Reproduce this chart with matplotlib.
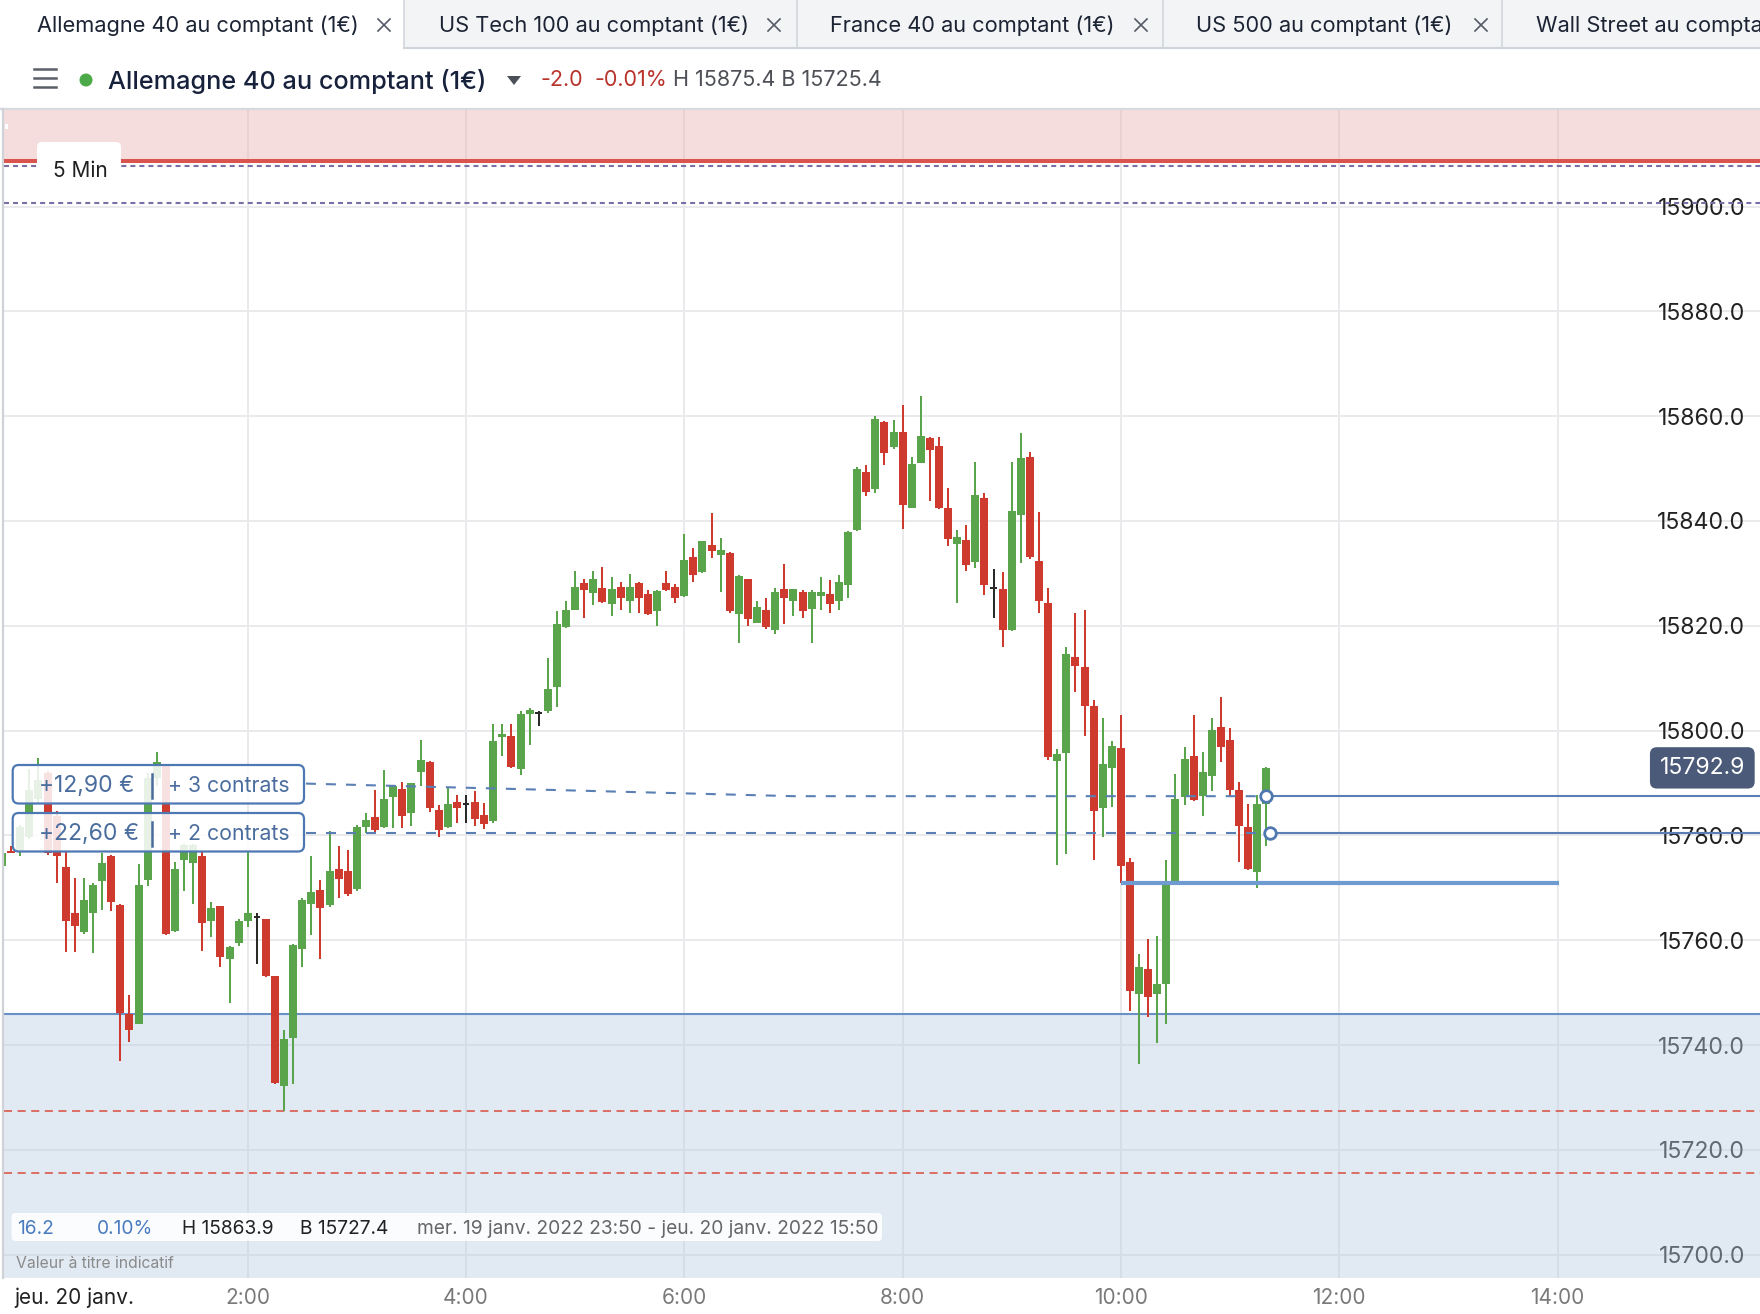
import numpy as np
import matplotlib
matplotlib.use("Agg")
import matplotlib.pyplot as plt
from matplotlib.patches import FancyBboxPatch, Rectangle, Polygon, Circle
from matplotlib.transforms import blended_transform_factory

plt.rcParams['font.family'] = ['Inter', 'DejaVu Sans']
plt.rcParams['lines.scale_dashes'] = False

# ---------------- data (5-min candles, DAX / Allemagne 40) ----------------
bar_times = [
    "23:45", "23:50", "23:55",
    "00:00", "00:05", "00:10", "00:15", "00:20", "00:25", "00:30", "00:35", "00:40", "00:45", "00:50", "00:55",
    "01:00", "01:05", "01:10", "01:15", "01:20", "01:25", "01:30", "01:35", "01:40", "01:45", "01:50", "01:55",
    "02:00", "02:05", "02:10", "02:15", "02:20", "02:25", "02:30", "02:35", "02:40", "02:45", "02:50", "02:55",
    "03:00", "03:05", "03:10", "03:15", "03:20", "03:25", "03:30", "03:35", "03:40", "03:45", "03:50", "03:55",
    "04:00", "04:05", "04:10", "04:15", "04:20", "04:25", "04:30", "04:35", "04:40", "04:45", "04:50", "04:55",
    "05:00", "05:05", "05:10", "05:15", "05:20", "05:25", "05:30", "05:35", "05:40", "05:45", "05:50", "05:55",
    "06:00", "06:05", "06:10", "06:15", "06:20", "06:25", "06:30", "06:35", "06:40", "06:45", "06:50", "06:55",
    "07:00", "07:05", "07:10", "07:15", "07:20", "07:25", "07:30", "07:35", "07:40", "07:45", "07:50", "07:55",
    "08:00", "08:05", "08:10", "08:15", "08:20", "08:25", "08:30", "08:35", "08:40", "08:45", "08:50", "08:55",
    "09:00", "09:05", "09:10", "09:15", "09:20", "09:25", "09:30", "09:35", "09:40", "09:45", "09:50", "09:55",
    "10:00", "10:05", "10:10", "10:15", "10:20", "10:25", "10:30", "10:35", "10:40", "10:45", "10:50", "10:55",
    "11:00", "11:05", "11:10", "11:15", "11:20",
]
opens = [
    15774.2, 15777.0, 15776.9,
    15779.8, 15787.0, 15791.9, 15783.7, 15774.0, 15765.3, 15761.6, 15765.3, 15771.3, 15776.0, 15766.7, 15745.9,
    15744.1, 15771.5, 15790.9, 15793.4, 15761.8, 15775.3, 15774.8, 15776.1, 15763.7, 15766.5, 15756.4, 15759.4,
    15763.7, 15764.5, 15764.1, 15753.2, 15732.3, 15741.3, 15758.4, 15766.9, 15769.6, 15766.7, 15773.6, 15773.2,
    15769.8, 15781.7, 15783.6, 15781.7, 15787.3, 15788.9, 15784.2, 15792.2, 15794.1, 15784.8, 15781.7, 15786.4,
    15786.0, 15786.4, 15784.0, 15782.7, 15798.7, 15799.0, 15792.6, 15803.1, 15803.3, 15803.7, 15808.3, 15819.7,
    15823.1, 15828.1, 15826.2, 15827.2, 15824.1, 15827.5, 15824.7, 15828.1, 15826.0, 15822.8, 15828.1, 15827.5,
    15825.6, 15833.1, 15830.3, 15835.5, 15833.6, 15833.9, 15822.2, 15829.0, 15820.6, 15823.1, 15819.2, 15827.1,
    15824.7, 15826.5, 15823.2, 15825.6, 15826.0, 15824.7, 15827.7, 15838.2, 15849.3, 15846.1, 15858.8, 15854.1,
    15856.9, 15842.5, 15851.1, 15855.9, 15854.4, 15842.5, 15835.7, 15836.4, 15832.1, 15844.4, 15827.3, 15827.1,
    15819.2, 15841.2, 15852.3, 15832.4, 15824.4, 15794.3, 15795.8, 15814.0, 15812.1, 15804.7, 15785.3, 15792.8,
    15796.7, 15775.0, 15749.7, 15754.6, 15749.7, 15751.6, 15771.2, 15787.4, 15795.2, 15787.6, 15791.4, 15800.7,
    15798.2, 15788.6, 15781.6, 15773.1, 15786.1,
]
highs = [
    15777.0, 15778.0, 15782.0,
    15792.6, 15794.7, 15792.3, 15784.7, 15776.9, 15771.9, 15771.9, 15771.0, 15776.6, 15776.3, 15767.0, 15749.6,
    15774.6, 15792.0, 15795.9, 15793.7, 15774.9, 15778.3, 15778.3, 15776.9, 15767.4, 15766.6, 15759.0, 15764.0,
    15776.9, 15765.3, 15764.1, 15753.2, 15742.9, 15759.3, 15768.0, 15776.0, 15771.5, 15780.9, 15778.0, 15777.2,
    15782.0, 15784.3, 15788.7, 15792.4, 15789.5, 15790.2, 15790.0, 15798.2, 15794.3, 15785.8, 15789.3, 15787.8,
    15787.8, 15788.4, 15786.2, 15801.3, 15801.3, 15801.3, 15803.8, 15804.4, 15803.8, 15813.8, 15822.9, 15824.8,
    15830.4, 15828.9, 15830.4, 15831.3, 15829.4, 15828.3, 15829.8, 15828.3, 15826.9, 15826.9, 15830.4, 15827.9,
    15837.5, 15834.8, 15836.1, 15841.5, 15836.8, 15834.0, 15829.7, 15829.0, 15824.8, 15825.4, 15827.3, 15831.8,
    15827.1, 15826.9, 15826.9, 15829.4, 15828.8, 15829.7, 15838.0, 15850.3, 15850.6, 15860.1, 15859.0, 15859.2,
    15862.2, 15852.2, 15863.9, 15856.0, 15856.1, 15846.3, 15838.3, 15839.2, 15851.2, 15845.3, 15830.8, 15830.3,
    15851.2, 15856.7, 15853.1, 15841.7, 15827.3, 15796.5, 15815.9, 15822.4, 15823.0, 15805.8, 15802.4, 15798.0,
    15803.0, 15775.7, 15757.3, 15760.3, 15760.9, 15775.4, 15791.7, 15796.9, 15803.0, 15795.9, 15802.4, 15806.4,
    15800.5, 15790.3, 15786.0, 15787.8, 15793.0,
]
lows = [
    15773.8, 15776.6, 15776.0,
    15779.4, 15786.0, 15776.2, 15770.9, 15757.8, 15757.8, 15761.3, 15757.5, 15765.8, 15765.6, 15737.0, 15740.6,
    15744.0, 15770.4, 15789.5, 15761.0, 15761.5, 15769.4, 15767.0, 15758.0, 15760.6, 15755.0, 15748.1, 15759.0,
    15762.6, 15755.5, 15753.0, 15732.5, 15727.4, 15732.5, 15755.0, 15761.1, 15756.5, 15766.4, 15768.0, 15768.5,
    15769.5, 15780.4, 15780.5, 15781.4, 15781.4, 15781.4, 15781.9, 15789.5, 15784.4, 15779.8, 15781.5, 15782.3,
    15782.3, 15781.9, 15781.3, 15782.3, 15795.2, 15792.8, 15791.5, 15797.3, 15800.8, 15803.3, 15804.5, 15819.6,
    15823.0, 15821.5, 15823.9, 15824.3, 15821.8, 15823.0, 15822.4, 15822.4, 15822.0, 15819.9, 15826.6, 15824.3,
    15825.5, 15828.3, 15830.0, 15832.9, 15826.4, 15822.4, 15816.8, 15819.9, 15820.5, 15819.4, 15818.4, 15820.3,
    15821.8, 15821.5, 15816.8, 15823.0, 15822.4, 15823.0, 15825.4, 15838.0, 15844.8, 15845.4, 15850.7, 15853.7,
    15838.4, 15842.4, 15851.0, 15843.9, 15842.3, 15835.3, 15824.3, 15830.4, 15831.0, 15825.8, 15821.5, 15816.0,
    15819.0, 15831.9, 15832.8, 15822.4, 15794.4, 15774.3, 15776.4, 15807.4, 15799.0, 15775.4, 15779.8, 15785.5,
    15770.9, 15746.5, 15736.4, 15745.3, 15740.4, 15744.0, 15770.9, 15785.9, 15786.5, 15783.8, 15788.4, 15794.1,
    15787.4, 15774.9, 15773.5, 15769.9, 15777.9,
]
closes = [
    15776.6, 15776.7, 15781.6,
    15788.7, 15790.6, 15776.6, 15776.0, 15763.7, 15762.8, 15767.7, 15770.5, 15774.7, 15767.4, 15746.2, 15742.9,
    15770.5, 15790.9, 15794.0, 15761.3, 15773.6, 15778.1, 15778.1, 15763.4, 15766.1, 15756.9, 15758.8, 15763.7,
    15765.3, 15764.5, 15753.2, 15732.8, 15741.2, 15759.1, 15767.7, 15769.2, 15766.2, 15773.2, 15771.7, 15768.8,
    15781.6, 15783.0, 15781.1, 15786.9, 15789.5, 15783.7, 15790.0, 15794.4, 15785.2, 15781.1, 15786.0, 15785.2,
    15786.0, 15783.2, 15782.1, 15798.1, 15799.4, 15793.1, 15803.1, 15804.0, 15803.3, 15808.0, 15820.4, 15823.1,
    15827.5, 15826.8, 15829.0, 15824.6, 15827.1, 15825.3, 15827.5, 15825.3, 15822.2, 15826.6, 15826.8, 15825.3,
    15832.5, 15829.7, 15836.1, 15834.3, 15834.5, 15822.8, 15829.6, 15821.3, 15823.5, 15819.7, 15826.5, 15825.3,
    15827.1, 15822.8, 15826.5, 15826.5, 15824.1, 15828.4, 15837.9, 15849.9, 15845.6, 15859.4, 15853.0, 15856.9,
    15843.1, 15850.8, 15856.3, 15853.5, 15842.5, 15836.6, 15837.0, 15831.7, 15844.9, 15827.7, 15827.3, 15819.2,
    15841.9, 15852.0, 15833.2, 15824.7, 15794.9, 15795.6, 15814.6, 15812.4, 15804.8, 15784.6, 15793.7, 15797.1,
    15774.1, 15750.3, 15755.0, 15749.1, 15751.6, 15771.0, 15787.0, 15794.6, 15786.7, 15792.1, 15800.1, 15796.8,
    15788.7, 15781.8, 15773.7, 15786.1, 15792.9,
]

# horizontal levels on the chart
resistance_level = 15908.6
upper_dotted_levels = [15907.7, 15900.6]
support_zone_top = 15745.9
stop_levels = [15727.4, 15715.6]
position1_times = ["02:32", "07:00", "11:20"]
position1_prices = [15789.9, 15787.5, 15787.5]
position2_times = ["02:32", "11:22"]
position2_prices = [15780.5, 15780.5]
order_line_times = ["10:00", "14:01"]
order_line_price = 15771.0
last_price = 15792.9

y_ticks = [15700, 15720, 15740, 15760, 15780, 15800, 15820, 15840, 15860, 15880, 15900]
x_ticks = ["02:00", "04:00", "06:00", "08:00", "10:00", "12:00", "14:00"]
x_tick_labels = ["2:00", "4:00", "6:00", "8:00", "10:00", "12:00", "14:00"]

tabs = ["Allemagne 40 au comptant (1€)", "US Tech 100 au comptant (1€)",
        "France 40 au comptant (1€)", "US 500 au comptant (1€)", "Wall Street au comptant (1€)"]


def to_min(s):
    h, m = map(int, s.split(':'))
    v = h * 60 + m
    return v - 1440 if h >= 20 else v


# ---------------- figure geometry (pixels) ----------------
W, H = 1760, 1314
fig = plt.figure(figsize=(W / 100, H / 100), dpi=100)
fig.patch.set_facecolor('white')

PX_MIN = 218.3 / 120.0
PX_PT = 5.2416


def px2t(x):
    return 120 + (x - 247.7) / PX_MIN


def py2p(y):
    return 15900 - (y - 206.5) / PX_PT


AX_L, AX_T, AX_B = 4, 109, 1278
ax = fig.add_axes([AX_L / W, 1 - AX_B / H, (W - AX_L) / W, (AX_B - AX_T) / H])
ax.set_xlim(px2t(AX_L), px2t(W))
ax.set_ylim(py2p(AX_B), py2p(AX_T))
for sp in ax.spines.values():
    sp.set_visible(False)

GREEN = '#5aa44b'
RED = '#cf3a2f'
DOJI = '#2a2a2a'
BLUE = '#5a7fb5'

# grid + ticks
ax.set_xticks([to_min(s) for s in x_ticks])
ax.set_xticklabels(x_tick_labels)
ax.set_yticks(y_ticks)
ax.set_yticklabels([f"{v:.1f}" for v in y_ticks])
ax.grid(True, color='#eaeaec', lw=1.4)
ax.set_axisbelow(True)
ax.tick_params(axis='x', length=0, pad=7.5, labelsize=15, labelcolor='#7a7a7a')
ax.yaxis.tick_right()
ax.tick_params(axis='y', length=0, pad=-10.8, labelsize=16.6, labelcolor='#222222')
for lbl in ax.get_yticklabels():
    lbl.set_horizontalalignment('right')

ylo, yhi = ax.get_ylim()
xlo, xhi = ax.get_xlim()

# zones
ax.axhspan(ylo, support_zone_top, color='#b8cbe3', alpha=0.42, lw=0, zorder=0.8)
ax.axhline(support_zone_top, color='#6a90c6', lw=1.5, zorder=1.1)
ax.axhspan(resistance_level, yhi, color='#e8a0a0', alpha=0.35, lw=0, zorder=0.8)
ax.axhline(resistance_level, color='#d9534f', lw=2.9, zorder=1.2)
for lev in upper_dotted_levels:
    ax.axhline(lev, color='#7b6ea6', lw=1.5, dashes=(3.6, 2.9), zorder=1.3)
for lev in stop_levels:
    ax.axhline(lev, color='#d9584a', lw=1.2, dashes=(5.8, 4.0), zorder=1.3)

# candles
t = np.array([to_min(s) for s in bar_times], dtype=float)
o = np.array(opens)
hi = np.array(highs)
lo = np.array(lows)
c = np.array(closes)
up = c > o
dn = c < o
dj = c == o
cols = np.where(up, GREEN, np.where(dn, RED, DOJI))
ax.vlines(t, lo, hi, colors=cols, lw=1.45, zorder=3)
body_bot = np.minimum(o, c)
body_h = np.abs(c - o)
ax.bar(t[~dj], body_h[~dj], width=4.4, bottom=body_bot[~dj], color=cols[~dj], lw=0, zorder=4)
ax.bar(t[dj], np.full(dj.sum(), 0.4), width=3.6, bottom=o[dj] - 0.2, color=DOJI, lw=0, zorder=4)

# position lines
p1t = [to_min(s) for s in position1_times]
p2t = [to_min(s) for s in position2_times]
ax.plot(p1t, position1_prices, color=BLUE, lw=1.5, dashes=(7.2, 7.2), zorder=5)
ax.plot([p1t[-1], xhi], [position1_prices[-1]] * 2, color=BLUE, lw=1.5, zorder=5)
ax.plot(p2t, position2_prices, color=BLUE, lw=1.5, dashes=(7.2, 7.2), zorder=5)
ax.plot([p2t[-1], xhi], [position2_prices[-1]] * 2, color=BLUE, lw=1.5, zorder=5)
ax.scatter([p1t[-1], p2t[-1]], [position1_prices[-1], position2_prices[-1]], s=70,
           facecolor='white', edgecolor='#4f78b0', linewidth=2, zorder=6)
ax.plot([to_min(s) for s in order_line_times], [order_line_price] * 2,
        color='#6f9bd1', lw=3.0, zorder=5, solid_capstyle='butt')

# last price tag
btr = blended_transform_factory(ax.transAxes, ax.transData)
ax.text((1745 - AX_L) / (W - AX_L), last_price, f"{last_price:.1f}", transform=btr,
        ha='right', va='center', color='white', fontsize=16.6, zorder=10,
        bbox=dict(boxstyle='round,pad=0.42,rounding_size=0.3', fc='#4b5a78', ec='none'))

# ---------------- overlay (UI chrome, pixel coords) ----------------
ov = fig.add_axes([0, 0, 1, 1])
ov.set_xlim(0, W)
ov.set_ylim(H, 0)
ov.axis('off')
ov.set_zorder(10)

# tab bar
ov.add_patch(Rectangle((404, 0), W - 404, 47, fc='#f3f4f6', ec='none'))
ov.plot([404, W], [48, 48], color='#cfd4da', lw=1.5)
for xs in [404, 797, 1163, 1502]:
    ov.plot([xs, xs], [0, 47], color='#d3d7dc', lw=1.2)
tab_x = [37, 439, 830, 1196, 1536]
close_x = [384, 774, 1141, 1481]
for tx, name in zip(tab_x, tabs):
    ov.text(tx, 26, name, fontsize=15.7, color='#1c2434', va='center', ha='left', clip_on=True)
for cx in close_x:
    d = 6
    ov.plot([cx - d, cx + d], [25 - d, 25 + d], color='#555b66', lw=1.2)
    ov.plot([cx - d, cx + d], [25 + d, 25 - d], color='#555b66', lw=1.2)

# instrument row
for yy in [69, 78, 87]:
    ov.plot([34, 56], [yy, yy], color='#5a5f68', lw=1.8)
ov.add_patch(Circle((86, 80), 6.5, fc='#4caa4a', ec='none'))
ov.text(108, 81, "Allemagne 40 au comptant (1€)", fontsize=18.2, fontweight='medium',
        color='#17213b', va='center', ha='left')
ov.add_patch(Polygon([[507, 76], [521, 76], [514, 85]], closed=True, fc='#4a4f58', ec='none'))
ov.text(540, 80, "-2.0", fontsize=15.5, color='#b8332b', va='center', ha='left')
ov.text(594, 80, "-0.01%", fontsize=15.5, color='#b8332b', va='center', ha='left')
ov.text(673, 80, "H 15875.4 B 15725.4", fontsize=15.5, color='#4d5056', va='center', ha='left')
ov.plot([0, W], [109, 109], color='#d6dadf', lw=1.6)
ov.plot([2.5, 2.5], [109, AX_B], color='#cfd3d8', lw=1.6)

# timeframe chip
ov.add_patch(FancyBboxPatch((37, 142), 84, 38, boxstyle='round,pad=0,rounding_size=5',
                            fc='white', ec='none'))
ov.text(53, 171, "5 Min", fontsize=15, color='#1f1f1f', va='center', ha='left')
ov.add_patch(Rectangle((5, 124), 3, 5, fc='white', ec='none'))

# position labels
pos_labels = [("+12,90 €", "+ 3 contrats", 765), ("+22,60 €", "+ 2 contrats", 813)]
for pnl, qty, y0 in pos_labels:
    ov.add_patch(FancyBboxPatch((12.7, y0), 291.3, 38.5, boxstyle='round,pad=0,rounding_size=6',
                                fc=(1, 1, 1, 0.86), ec='#4d78b3', lw=1.6))
    yc = y0 + 21.5
    ov.text(39, yc, pnl, fontsize=16.5, color='#4a6d9e', va='center', ha='left')
    ov.plot([152, 152], [yc - 13, yc + 11], color='#4a6d9e', lw=1.8)
    ov.text(168, yc, qty, fontsize=15.3, color='#4a6d9e', va='center', ha='left')

# info bar
ov.add_patch(FancyBboxPatch((11.5, 1213), 870.5, 28, boxstyle='round,pad=0,rounding_size=4',
                            fc=(1, 1, 1, 0.88), ec='none'))
ov.text(17, 1229, "16.2", fontsize=13.8, color='#4a7bc0', va='center', ha='left')
ov.text(97, 1229, "0.10%", fontsize=13.8, color='#4a7bc0', va='center', ha='left')
ov.text(182, 1229, "H 15863.9", fontsize=13.8, color='#222222', va='center', ha='left')
ov.text(300, 1229, "B 15727.4", fontsize=13.8, color='#222222', va='center', ha='left')
ov.text(417, 1229, "mer. 19 janv. 2022 23:50 - jeu. 20 janv. 2022 15:50", fontsize=13.8,
        color='#666666', va='center', ha='left')
ov.text(16, 1263, "Valeur à titre indicatif", fontsize=11.3, color='#8a8a8a', va='center', ha='left')
ov.text(14, 1298, "jeu. 20 janv.", fontsize=15, color='#222222', va='center', ha='left')

fig.savefig("out.png", dpi=100, facecolor='white')
